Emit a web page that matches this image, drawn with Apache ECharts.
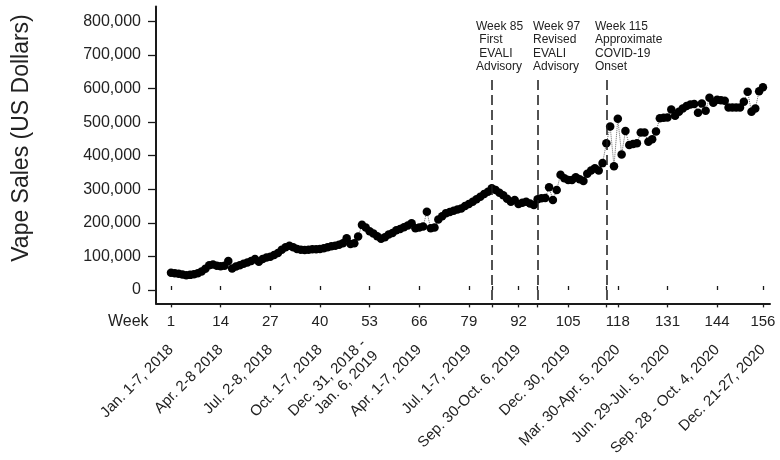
<!DOCTYPE html>
<html>
<head>
<meta charset="utf-8">
<script src="https://cdn.jsdelivr.net/npm/echarts@6/dist/echarts.min.js"></script>
<style>html,body{margin:0;padding:0;background:#fff}#c{width:780px;height:460px}</style>
</head>
<body>
<div id="c"></div>
<script>
// Weekly vape sales (US dollars), weeks 1..156
const sales = [
  51000,50000,48000,46000,44000,45000,47000,50000,55000,63000,
  74000,76000,72000,71000,72000,86000,64000,70000,74000,78000,
  82000,86000,92000,84000,92000,97000,99000,104000,110000,120000,
  127000,132000,127000,122000,120000,119000,120000,121000,121000,122000,
  124000,127000,130000,132000,135000,139000,154000,137000,139000,159000,
  194000,186000,175000,168000,160000,153000,157000,165000,170000,178000,
  182000,187000,192000,199000,184000,186000,189000,233000,184000,186000,
  210000,220000,229000,232000,236000,240000,243000,250000,256000,263000,
  270000,278000,286000,293000,303000,298000,290000,282000,272000,263000,
  268000,256000,260000,263000,258000,253000,270000,273000,274000,306000,
  268000,298000,343000,333000,328000,328000,336000,330000,325000,346000,
  356000,363000,356000,378000,437000,487000,369000,510000,404000,474000,
  432000,435000,437000,469000,469000,442000,449000,472000,512000,513000,
  514000,538000,519000,531000,541000,548000,553000,554000,528000,556000,
  534000,573000,558000,567000,565000,564000,544000,544000,544000,544000,
  561000,591000,531000,541000,592000,604000
];
const weekLabelTicks = [1,14,27,40,53,66,79,92,105,118,131,144,156];
const dateLabels = [
  "Jan. 1-7, 2018","Apr. 2-8 2018","Jul. 2-8, 2018","Oct. 1-7, 2018",
  "Dec. 31, 2018 -\nJan. 6, 2019","Apr. 1-7, 2019","Jul. 1-7, 2019",
  "Sep. 30-Oct. 6, 2019","Dec. 30, 2019","Mar. 30-Apr. 5, 2020",
  "Jun. 29-Jul. 5, 2020","Sep. 28 - Oct. 4, 2020","Dec. 21-27, 2020"
];
const eventWeeks = [85, 97, 115];
const eventTexts = ["Week 85\n First\n EVALI\nAdvisory", "Week 97\nRevised\nEVALI\nAdvisory", "Week 115\nApproximate\nCOVID-19\nOnset"];
const yTickValues = [0,100000,200000,300000,400000,500000,600000,700000,800000];

const FONT = '"Liberation Sans", Arial, sans-serif';
const allXTicks = weekLabelTicks.concat(eventWeeks).sort((a,b)=>a-b);
const seriesData = sales.map((v,i)=>[i+1, v]);
const dateMap = {};
weekLabelTicks.forEach((w,i)=>{ dateMap[w] = dateLabels[i]; });

const chart = echarts.init(document.getElementById('c'), null, {renderer:'canvas'});
const xCommon = { type:'value', min:-2.93, max:157.85, splitLine:{show:false} };
chart.setOption({
  animation:false,
  backgroundColor:'#fff',
  grid:{ left:156, top:6.4, width:614, height:297, containLabel:false, outerBoundsMode:'none' },
  xAxis:[
    Object.assign({}, xCommon, {
      position:'bottom',
      axisLine:{show:true, onZero:false, lineStyle:{color:'#1a1a1a', width:2}},
      axisTick:{show:true, customValues:allXTicks, length:4, lineStyle:{color:'#1a1a1a', width:1.3}},
      axisLabel:{customValues:weekLabelTicks, margin:11, fontSize:15, fontFamily:FONT, color:'#222'}
    }),
    Object.assign({}, xCommon, {
      position:'bottom', offset:0,
      axisLine:{show:false},
      axisTick:{show:true, inside:true, customValues:allXTicks, length:4, lineStyle:{color:'#1a1a1a', width:1.3}},
      axisLabel:{customValues:weekLabelTicks, rotate:45, margin:44, fontSize:15, fontFamily:FONT, color:'#222', lineHeight:17,
        formatter:(v)=>dateMap[v] || ''}
    })
  ],
  yAxis:{
    type:'value', min:-40000, max:845000,
    splitLine:{show:false},
    axisLine:{show:true, onZero:false, lineStyle:{color:'#1a1a1a', width:2}},
    axisTick:{show:true, customValues:yTickValues, length:8, lineStyle:{color:'#1a1a1a', width:1.3}},
    axisLabel:{customValues:yTickValues, margin:15, fontSize:16, fontFamily:FONT, color:'#222',
      formatter:(v)=>v.toLocaleString('en-US')}
  },
  series:[{
    type:'line', xAxisIndex:0, yAxisIndex:0,
    data:seriesData,
    symbol:'circle', symbolSize:8.5, showAllSymbol:true,
    itemStyle:{color:'#000'},
    lineStyle:{type:'dotted', width:1, color:'#666'},
    markLine:{
      silent:true, symbol:'none', animation:false,
      label:{show:false},
      lineStyle:{type:[10,5], color:'#1a1a1a', width:1.5},
      data: eventWeeks.map(w=>[{coord:[w, 626000]},{coord:[w, -40000]}])
    }
  }],
  graphic:[
    {type:'text', x:22, y:138, rotation:Math.PI/2,
      style:{text:'Vape Sales (US Dollars)', font:'23px '+FONT, fill:'#222', align:'center', verticalAlign:'middle'}},
    {type:'text', x:108, y:322,
      style:{text:'Week', font:'16px '+FONT, fill:'#222', align:'left', verticalAlign:'middle'}},
    {type:'text', x:476, y:19.5, style:{text:eventTexts[0], font:'12px '+FONT, fill:'#222', lineHeight:13.6, align:'left', verticalAlign:'top'}},
    {type:'text', x:533, y:19.5, style:{text:eventTexts[1], font:'12px '+FONT, fill:'#222', lineHeight:13.6, align:'left', verticalAlign:'top'}},
    {type:'text', x:595, y:19.5, style:{text:eventTexts[2], font:'12px '+FONT, fill:'#222', lineHeight:13.6, align:'left', verticalAlign:'top'}}
  ]
});
</script>
</body>
</html>
